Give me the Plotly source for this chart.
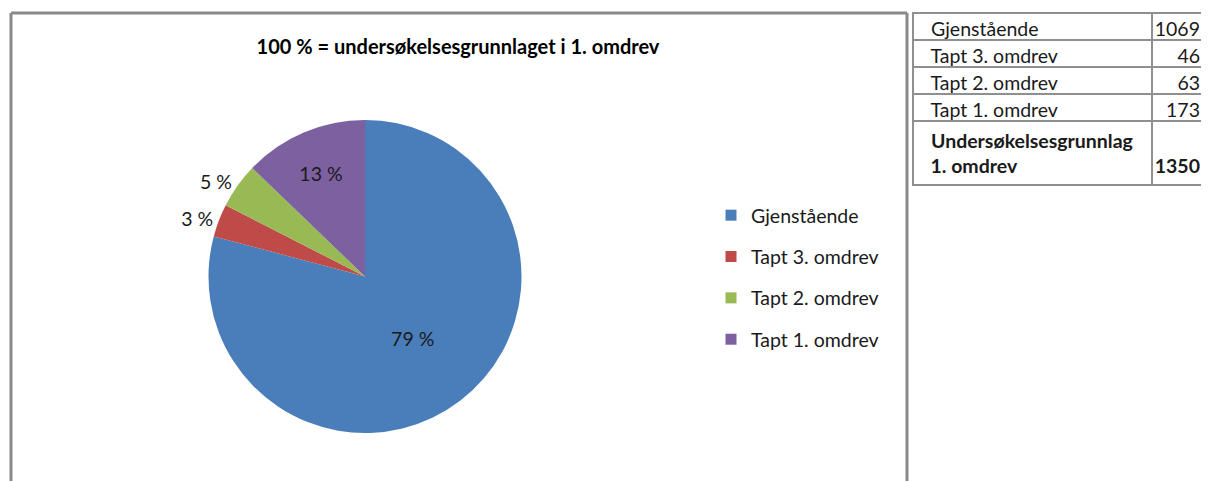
import plotly.graph_objects as go

# ---- data ----
labels = ["Gjenstående", "Tapt 3. omdrev", "Tapt 2. omdrev", "Tapt 1. omdrev"]
values = [1069, 46, 63, 173]
total_label = "Undersøkelsesgrunnlag<br>1. omdrev"
total_value = 1350
title_text = "100 % = undersøkelsesgrunnlaget i 1. omdrev"

colors = ["#4A7EBB", "#BE4B48", "#98B954", "#7D60A0"]
FONT = "Lato"
FS = 19.5

# page body has an 8px margin; build figure in reference coords minus 8px
OFF = 8
W, H = 1209 - OFF, 481 - OFF


def px(x):
    return (x - OFF) / W


def py(y):
    return 1 - (y - OFF) / H


s = sum(values)
pct_text = [f"{round(100 * v / s)} %" for v in values]

fig = go.Figure()

fig.add_trace(go.Pie(
    labels=labels, values=values, text=pct_text, textinfo="text",
    textposition=["inside", "outside", "outside", "inside"],
    insidetextorientation="horizontal",
    sort=False, direction="clockwise", rotation=0,
    marker=dict(colors=colors, line=dict(width=0)),
    textfont=dict(family=FONT, size=FS, color="#1a1a1a"),
    outsidetextfont=dict(family=FONT, size=FS, color="#1a1a1a"),
    insidetextfont=dict(family=FONT, size=FS, color="#1a1a1a"),
    domain=dict(x=[px(208), px(522)], y=[py(433), py(120)]),
    showlegend=False, hoverinfo="label+value+percent",
))

# legend entries (one group per category for spacing)
for lab, col in zip(labels, colors):
    fig.add_trace(go.Scatter(
        x=[None], y=[None], mode="markers", name=lab, legendgroup=lab,
        marker=dict(symbol="square", size=11, color=col),
    ))

pad = "\u00a0\u00a0"
tfont = dict(family=FONT, size=FS, color="#1a1a1a")
tline = dict(color="#8f8f8f", width=2)
fig.add_trace(go.Table(
    domain=dict(x=[px(913), px(1208)], y=[py(300), py(13)]),
    columnwidth=[239, 56],
    header=dict(values=[pad + labels[0], str(values[0])],
                align=["left", "right"], height=27,
                fill_color="white", line=tline, font=tfont),
    cells=dict(values=[[pad + l for l in labels[1:]] + [pad + "<b>" + total_label.replace("<br>", "<br>" + pad) + "</b>"],
                       [str(v) for v in values[1:]] + ["\u00a0<br><b>" + str(total_value) + "</b>"]],
               align=["left", "right"], height=27,
               fill_color="white", line=tline, font=tfont),
))

# chart frame
frame = dict(type="line", xref="paper", yref="paper", line=dict(color="#8a8a8a", width=3))
fig.add_shape(**frame, x0=px(11), x1=px(11), y0=-0.05, y1=py(13))
fig.add_shape(**frame, x0=px(907), x1=px(907), y0=-0.05, y1=py(13))
fig.add_shape(**frame, x0=px(11), x1=px(907), y0=py(13), y1=py(13))

fig.update_layout(
    width=W, height=H, margin=dict(l=0, r=0, t=0, b=0),
    paper_bgcolor="white", plot_bgcolor="white",
    title=dict(text="<b>" + title_text + "</b>", x=px(458), xanchor="center",
               y=py(47), yanchor="middle",
               font=dict(family=FONT, size=20, color="#000000")),
    xaxis=dict(visible=False), yaxis=dict(visible=False),
    legend=dict(x=px(711), y=py(196), xanchor="left", yanchor="top",
                tracegroupgap=13, font=tfont,
                bgcolor="rgba(0,0,0,0)"),
)

fig.write_html("out.html")
